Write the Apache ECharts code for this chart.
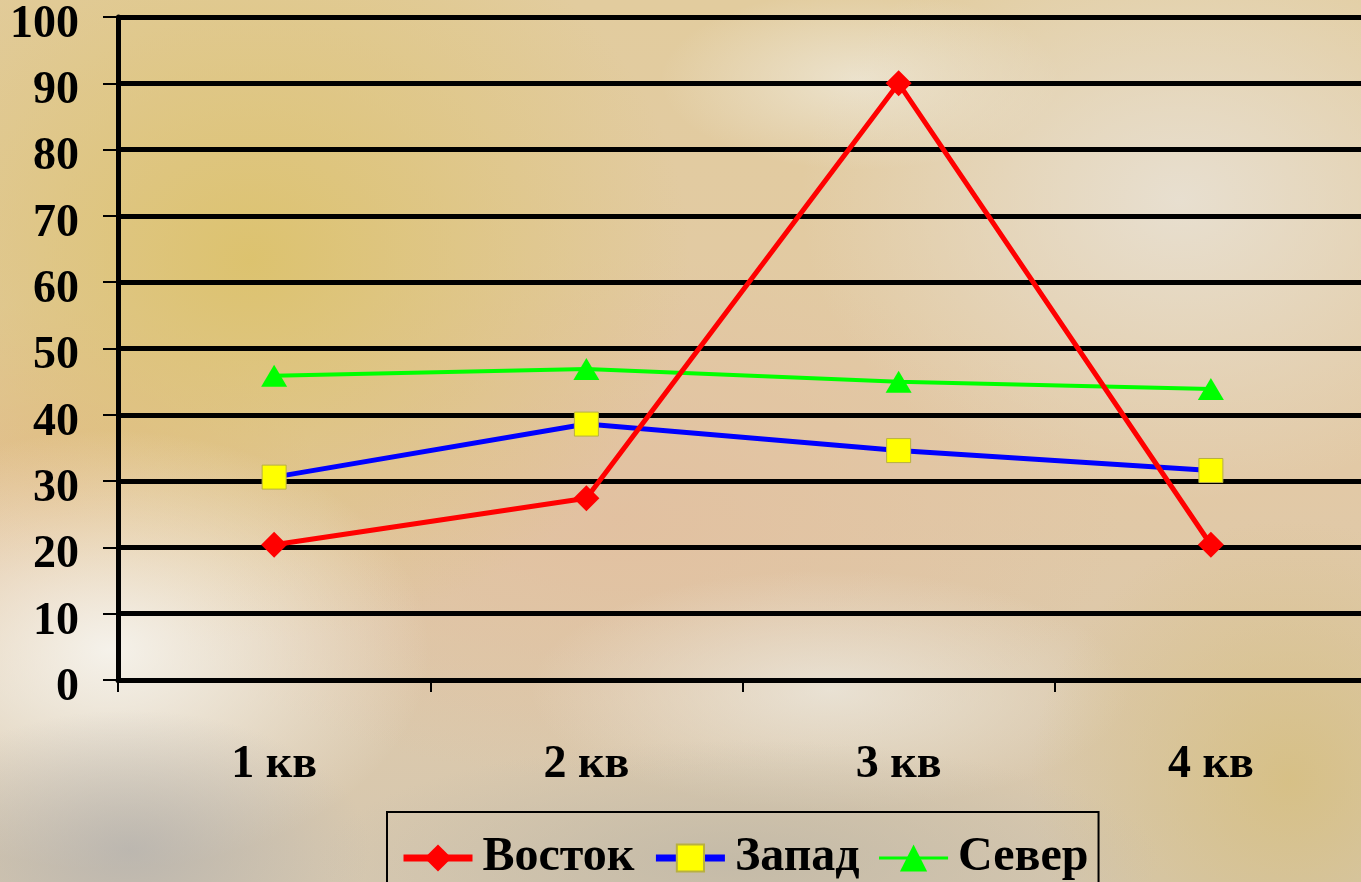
<!DOCTYPE html>
<html>
<head>
<meta charset="utf-8">
<script src="https://cdn.jsdelivr.net/npm/echarts@6/dist/echarts.min.js"></script>
<style>
  html, body { margin: 0; padding: 0; width: 1361px; height: 882px; overflow: hidden; }
  #chart {
    width: 1361px; height: 882px;
    background:
      radial-gradient(ellipse 240px 140px at 130px 850px, rgba(178,176,174,0.75), rgba(178,176,174,0) 100%),
      radial-gradient(ellipse 320px 220px at 110px 650px, rgba(246,244,238,0.95), rgba(246,244,238,0) 100%),
      radial-gradient(ellipse 420px 120px at 740px 860px, rgba(190,182,165,0.75), rgba(190,182,165,0) 100%),
      radial-gradient(ellipse 260px 260px at 1290px 780px, rgba(214,190,125,0.8), rgba(214,190,125,0) 100%),
      radial-gradient(ellipse 300px 120px at 830px 690px, rgba(236,232,222,0.8), rgba(236,232,222,0) 100%),
      radial-gradient(ellipse 440px 380px at 250px 260px, rgba(220,194,108,0.95), rgba(220,194,108,0) 100%),
      radial-gradient(ellipse 260px 200px at 60px 500px, rgba(226,180,130,0.7), rgba(226,180,130,0) 100%),
      radial-gradient(ellipse 380px 300px at 1180px 200px, rgba(232,224,210,0.95), rgba(232,224,210,0) 100%),
      radial-gradient(ellipse 200px 90px at 860px 80px, rgba(240,236,224,0.7), rgba(240,236,224,0) 100%),
      radial-gradient(ellipse 500px 260px at 620px 520px, rgba(226,192,160,0.9), rgba(226,192,160,0) 100%),
      linear-gradient(180deg, #e2cc9e 0%, #e2c9a6 55%, #d6c8b0 100%);
  }
</style>
</head>
<body>
<div id="chart"></div>
<script>
// Quarterly figures per region
const categories = ['1 кв', '2 кв', '3 кв', '4 кв'];
const vostok = [20.4, 27.4, 90, 20.4];
const zapad = [30.6, 38.6, 34.6, 31.6];
const sever = [45.9, 46.9, 45, 43.9];
const seriesNames = ['Восток', 'Запад', 'Север'];

const FONT = '"Liberation Serif", "DejaVu Serif", serif';

const chart = echarts.init(document.getElementById('chart'), null, { renderer: 'canvas' });

chart.setOption({
  backgroundColor: 'transparent',
  animation: false,
  textStyle: { fontFamily: FONT },
  grid: { left: 118, right: -6, top: 17, bottom: 202, containLabel: false, outerBoundsMode: 'none' },
  legend: {
    data: [
      { name: seriesNames[0], lineStyle: { width: 7 } },
      { name: seriesNames[1], lineStyle: { width: 7 } },
      { name: seriesNames[2], lineStyle: { width: 3 }, itemStyle: { borderWidth: 0 } }
    ],
    left: 387,
    top: 812,
    padding: [22, 10, 30, 13],
    itemGap: 18,
    itemWidth: 69,
    itemHeight: 34,
    borderColor: '#000',
    borderWidth: 2,
    textStyle: { fontFamily: FONT, fontWeight: 'bold', fontSize: 48, color: '#000', padding: [0, 0, 0, 5] }
  },
  xAxis: {
    type: 'category',
    data: categories,
    boundaryGap: true,
    axisLine: { show: true, lineStyle: { color: '#000', width: 5 } },
    axisTick: { show: true, length: 12, lineStyle: { color: '#000', width: 2 } },
    axisLabel: { fontFamily: FONT, fontWeight: 'bold', fontSize: 46, color: '#000', margin: 62 },
    splitLine: { show: false }
  },
  yAxis: {
    type: 'value',
    min: 0,
    max: 100,
    interval: 10,
    axisLine: { show: true, lineStyle: { color: '#000', width: 5 } },
    axisTick: { show: true, length: 15, lineStyle: { color: '#000', width: 2 } },
    axisLabel: {
      fontFamily: FONT, fontWeight: 'bold', fontSize: 46, color: '#000',
      margin: 39, verticalAlign: 'top', lineHeight: 16
    },
    splitLine: { show: true, lineStyle: { color: '#000', width: 5 } }
  },
  series: [
    {
      name: seriesNames[0],
      type: 'line',
      data: vostok,
      symbol: 'diamond',
      symbolSize: 26,
      lineStyle: { color: '#ff0000', width: 5 },
      itemStyle: { color: '#ff0000', borderColor: '#ff0000', borderWidth: 0 },
      z: 3
    },
    {
      name: seriesNames[1],
      type: 'line',
      data: zapad,
      symbol: 'rect',
      symbolSize: 24,
      lineStyle: { color: '#0000ff', width: 5 },
      itemStyle: { color: '#ffff00', borderColor: '#b8b040', borderWidth: 1 },
      z: 2
    },
    {
      name: seriesNames[2],
      type: 'line',
      data: sever,
      symbol: 'triangle',
      symbolSize: [26, 22],
      lineStyle: { color: '#00ff00', width: 4 },
      itemStyle: { color: '#00ff00', borderWidth: 0 },
      z: 1
    }
  ]
});
</script>
</body>
</html>
